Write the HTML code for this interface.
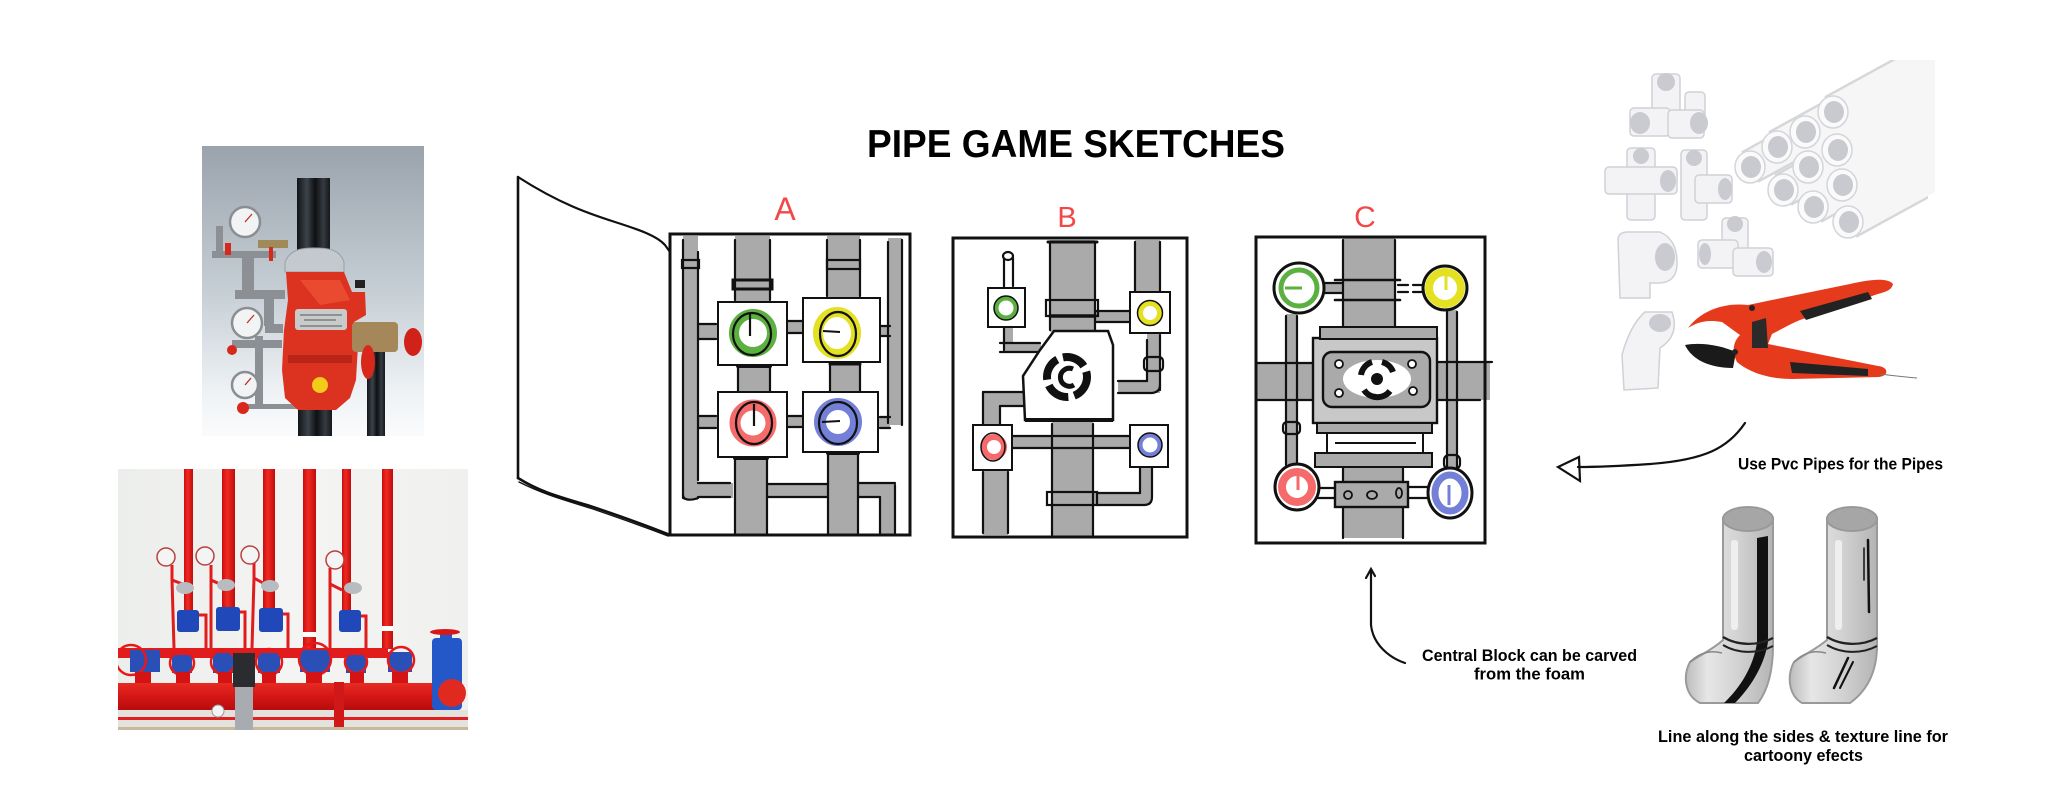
<!DOCTYPE html>
<html><head><meta charset="utf-8"><style>
html,body{margin:0;padding:0;background:#fff;}
svg{display:block;}
</style></head><body>
<svg width="2048" height="787" viewBox="0 0 2048 787" xmlns="http://www.w3.org/2000/svg" font-family="'Liberation Sans', sans-serif">
<defs>
 <linearGradient id="bgTL" x1="0" y1="0" x2="0" y2="1">
  <stop offset="0" stop-color="#9aa3ac"/><stop offset="0.5" stop-color="#c6ced5"/><stop offset="0.85" stop-color="#eef2f5"/><stop offset="1" stop-color="#fafbfc"/>
 </linearGradient>
 <linearGradient id="blk" x1="0" x2="1" y1="0" y2="0">
  <stop offset="0" stop-color="#121518"/><stop offset="0.3" stop-color="#3c434a"/><stop offset="0.55" stop-color="#0e1012"/><stop offset="0.8" stop-color="#353b41"/><stop offset="1" stop-color="#15181b"/>
 </linearGradient>
 <linearGradient id="bgBL" x1="0" y1="0" x2="1" y2="0">
  <stop offset="0" stop-color="#eceeec"/><stop offset="0.5" stop-color="#f4f4f2"/><stop offset="1" stop-color="#f0f0ee"/>
 </linearGradient>
 <linearGradient id="redp" x1="0" x2="1">
  <stop offset="0" stop-color="#c80e0e"/><stop offset="0.4" stop-color="#f02a22"/><stop offset="1" stop-color="#c00c0c"/>
 </linearGradient>
 <linearGradient id="redh" x1="0" y1="0" x2="0" y2="1">
  <stop offset="0" stop-color="#e82a22"/><stop offset="0.5" stop-color="#d41616"/><stop offset="1" stop-color="#b80c0c"/>
 </linearGradient>
 <linearGradient id="cyl" x1="0" x2="1">
  <stop offset="0" stop-color="#bcbcbc"/><stop offset="0.25" stop-color="#e6e6e6"/><stop offset="0.6" stop-color="#d2d2d2"/><stop offset="1" stop-color="#b4b4b4"/>
 </linearGradient>
 <clipPath id="cTL"><rect x="202" y="146" width="222" height="290"/></clipPath>
 <clipPath id="cBL"><rect x="118" y="469" width="350" height="261"/></clipPath>
 <clipPath id="cPVC"><rect x="1600" y="60" width="335" height="335"/></clipPath>
</defs>

<!-- ================= TOP-LEFT PHOTO ================= -->
<g clip-path="url(#cTL)">
 <rect x="202" y="146" width="222" height="290" fill="url(#bgTL)"/>
 <!-- gray trim piping -->
 <g fill="#8c9094">
  <rect x="212" y="251" width="64" height="7"/>
  <rect x="216" y="226" width="7" height="28"/>
  <rect x="242" y="253" width="12" height="42"/>
  <rect x="235" y="290" width="50" height="9"/>
  <rect x="265" y="324" width="18" height="9"/>
  <rect x="255" y="336" width="8" height="72"/>
  <rect x="232" y="340" width="50" height="8"/>
  <rect x="243" y="404" width="56" height="5"/>
  <rect x="264" y="296" width="10" height="30"/>
 </g>
 <rect x="258" y="240" width="30" height="8" fill="#a08a5a"/>
 <!-- gauges -->
 <g fill="#f2f3f4" stroke="#8a8e92" stroke-width="2.5">
  <circle cx="245" cy="222" r="15"/>
  <circle cx="247" cy="323" r="15"/>
  <circle cx="245" cy="385" r="13"/>
 </g>
 <g stroke="#c03020" stroke-width="1.3">
  <line x1="245" y1="222" x2="252" y2="214"/>
  <line x1="247" y1="323" x2="254" y2="315"/>
  <line x1="245" y1="385" x2="251" y2="378"/>
 </g>
 <!-- red handles -->
 <g fill="#d8281c">
  <rect x="225" y="243" width="6" height="12"/>
  <circle cx="232" cy="350" r="5"/>
  <circle cx="243" cy="408" r="6"/>
  <rect x="269" y="247" width="4" height="14"/>
 </g>
 <!-- black pipes -->
 <rect x="297" y="178" width="33" height="74" fill="url(#blk)"/>
 <rect x="298" y="405" width="34" height="32" fill="url(#blk)"/>
 <rect x="367" y="350" width="18" height="87" fill="url(#blk)"/>
 <!-- flange -->
 <path d="M285,262 C290,250 300,248 314,248 C330,248 340,250 344,262 L344,272 L285,272 Z" fill="#c4c9ce" stroke="#9aa0a6" stroke-width="1"/>
 <!-- red body -->
 <path d="M286,272 L344,272 L352,292 L365,292 L366,315 L354,322 L358,345 L356,380 L350,398 L336,410 L298,410 L285,398 L282,370 L284,330 L288,300 Z" fill="#dc3220"/>
 <path d="M300,280 L340,280 L350,300 L320,305 Z" fill="#ea4a30"/>
 <rect x="295" y="309" width="52" height="21" rx="3" fill="#c9cacc"/>
 <g stroke="#555" stroke-width="1"><line x1="300" y1="315" x2="342" y2="315"/><line x1="304" y1="320" x2="336" y2="320"/><line x1="300" y1="326" x2="342" y2="326"/></g>
 <rect x="288" y="355" width="64" height="8" fill="#b82416"/>
 <!-- bronze & wheel -->
 <rect x="352" y="322" width="46" height="30" rx="4" fill="#a5875a"/>
 <ellipse cx="368" cy="362" rx="7" ry="17" fill="#d8281c"/>
 <ellipse cx="413" cy="342" rx="9" ry="14" fill="#d02218"/>
 <circle cx="320" cy="385" r="8" fill="#f2cc18"/>
 <rect x="355" y="280" width="10" height="8" fill="#222"/>
</g>

<!-- ================= BOTTOM-LEFT PHOTO ================= -->
<g clip-path="url(#cBL)">
 <rect x="118" y="469" width="350" height="261" fill="url(#bgBL)"/>
 <!-- vertical red pipes -->
 <g fill="url(#redp)">
  <rect x="184" y="469" width="9" height="150"/>
  <rect x="222" y="469" width="13" height="150"/>
  <rect x="263" y="469" width="12" height="150"/>
  <rect x="303" y="469" width="13" height="180"/>
  <rect x="342" y="469" width="9" height="150"/>
  <rect x="382" y="469" width="11" height="180"/>
 </g>
 <g fill="#fff"><rect x="303" y="632" width="13" height="5"/><rect x="382" y="626" width="11" height="5"/></g>
 <!-- small red branch pipes -->
 <g stroke="#e01c1c" stroke-width="3" fill="none">
  <path d="M172,565 L172,580 L185,585 M172,580 L174,648"/>
  <path d="M211,565 L211,580 L222,585 M211,580 L211,648"/>
  <path d="M254,563 L254,578 L263,583 M254,578 L252,648"/>
  <path d="M330,568 L330,584 L342,590 M330,584 L330,648"/>
  <path d="M198,615 L206,615 L206,650"/><path d="M240,612 L245,612 L245,650"/><path d="M283,614 L288,614 L288,650"/><path d="M361,616 L366,616 L366,650"/>
 </g>
 <!-- gauges -->
 <g fill="#f4f4f4" stroke="#b84040" stroke-width="1.5">
  <circle cx="166" cy="557" r="9"/><circle cx="205" cy="556" r="9"/><circle cx="250" cy="555" r="9"/><circle cx="335" cy="560" r="9"/>
 </g>
 <!-- silver caps -->
 <g fill="#b8bcc0"><ellipse cx="185" cy="588" rx="9" ry="6"/><ellipse cx="226" cy="585" rx="9" ry="6"/><ellipse cx="270" cy="586" rx="9" ry="6"/><ellipse cx="353" cy="588" rx="9" ry="6"/></g>
 <!-- blue valve bodies -->
 <g fill="#2048b8">
  <rect x="177" y="610" width="22" height="22" rx="3"/><rect x="216" y="607" width="24" height="24" rx="3"/><rect x="259" y="608" width="24" height="24" rx="3"/><rect x="339" y="610" width="22" height="22" rx="3"/>
 </g>
 <!-- thin horizontal red -->
 <rect x="118" y="648" width="270" height="10" fill="#e01c1c"/>
 <!-- wheel valves -->
 <g fill="#2a50b8">
  <rect x="130" y="650" width="30" height="22"/><rect x="172" y="655" width="20" height="18"/><rect x="213" y="653" width="22" height="20"/><rect x="258" y="653" width="22" height="20"/><rect x="300" y="650" width="30" height="22"/><rect x="346" y="655" width="20" height="18"/><rect x="388" y="652" width="24" height="20"/>
 </g>
 <g fill="none" stroke="#e81818" stroke-width="2.5">
  <circle cx="131" cy="660" r="15"/><circle cx="182" cy="663" r="12"/><circle cx="223" cy="662" r="12"/><circle cx="269" cy="662" r="13"/><circle cx="315" cy="659" r="16"/><circle cx="356" cy="662" r="11"/><circle cx="401" cy="660" r="13"/>
 </g>
 <g fill="#d41414"><rect x="135" y="672" width="16" height="12"/><rect x="176" y="672" width="14" height="12"/><rect x="218" y="672" width="14" height="12"/><rect x="262" y="672" width="14" height="12"/><rect x="306" y="672" width="16" height="12"/><rect x="350" y="672" width="14" height="12"/><rect x="392" y="672" width="16" height="12"/></g>
 <!-- big red header -->
 <rect x="118" y="683" width="320" height="27" fill="url(#redh)"/>
 <!-- floor -->
 <rect x="118" y="710" width="350" height="20" fill="#e4e2dc"/>
 <rect x="118" y="717" width="350" height="3" fill="#e02020"/>
 <rect x="118" y="727" width="350" height="3" fill="#c8b8a0"/>
 <circle cx="218" cy="711" r="6" fill="#f4f4f4" stroke="#999"/>
 <rect x="334" y="682" width="10" height="45" fill="#d01818"/>
 <!-- pump -->
 <rect x="233" y="653" width="22" height="34" fill="#2a2c30"/>
 <rect x="235" y="687" width="18" height="43" fill="#a8acb0"/>
 <!-- gate valve -->
 <rect x="432" y="638" width="30" height="72" rx="4" fill="#2458c8"/>
 <rect x="440" y="633" width="12" height="12" fill="#2458c8"/>
 <ellipse cx="445" cy="632" rx="15" ry="3" fill="#d81818"/>
 <circle cx="452" cy="693" r="14" fill="#e02a20"/>
</g>

<!-- ================= DOOR ================= -->
<g fill="none" stroke="#111" stroke-linecap="round">
 <path d="M518,177 L518,478" stroke-width="2.6"/>
 <path d="M518,177 C560,204 590,214 615,222 C640,230 657,236 665,245 L670,252" stroke-width="2.2"/>
 <path d="M518,478 C540,492 560,497 590,506 C620,516 645,525 670,535" stroke-width="2.6"/>
 <path d="M519,482 C545,495 565,500 593,509 C622,519 648,528 668,536" stroke-width="1.4"/>
</g>

<!-- ================= TITLE ================= -->
<text x="867" y="157" font-size="39" font-weight="bold" fill="#000" textLength="418" lengthAdjust="spacingAndGlyphs">PIPE GAME SKETCHES</text>

<!-- labels -->
<g fill="#f24848" font-size="32" text-anchor="middle">
 <text x="785" y="220">A</text>
 <text x="1067" y="227" font-size="29">B</text>
 <text x="1365" y="227" font-size="30">C</text>
</g>

<!-- ================= PANEL A ================= -->
<g>
 <g fill="#aaa">
  <rect x="683" y="236" width="15" height="264"/>
  <rect x="683" y="483" width="50" height="15"/>
  <rect x="698" y="324" width="20" height="16"/>
  <rect x="698" y="415" width="20" height="13"/>
  <rect x="735" y="236" width="35" height="66"/>
  <rect x="827" y="236" width="33" height="62"/>
  <rect x="888" y="238" width="14" height="187"/>
  <rect x="878" y="326" width="12" height="11"/>
  <rect x="878" y="416" width="12" height="12"/>
  <rect x="738" y="365" width="32" height="27"/>
  <rect x="830" y="362" width="30" height="30"/>
  <rect x="787" y="321" width="16" height="12"/>
  <rect x="787" y="415" width="16" height="13"/>
  <rect x="735" y="457" width="32" height="78"/>
  <rect x="828" y="452" width="30" height="83"/>
  <rect x="767" y="484" width="61" height="13"/>
  <rect x="858" y="483" width="37" height="14"/>
  <rect x="880" y="483" width="15" height="52"/>
 </g>
 <g stroke="#111" stroke-width="2.2" fill="none" stroke-linecap="round">
  <line x1="683" y1="240" x2="683" y2="498"/><line x1="698" y1="252" x2="698" y2="480"/>
  <rect x="682" y="260" width="17" height="8"/>
  <path d="M683,495 C683,500 690,501 698,498"/>
  <line x1="698" y1="483" x2="730" y2="483"/><line x1="698" y1="497" x2="730" y2="497"/>
  <line x1="698" y1="324" x2="716" y2="324"/><line x1="698" y1="339" x2="716" y2="339"/>
  <line x1="698" y1="416" x2="716" y2="416"/><line x1="698" y1="428" x2="716" y2="428"/>
  <line x1="735" y1="240" x2="735" y2="300"/><line x1="770" y1="240" x2="770" y2="300"/>
  <rect x="733" y="280" width="39" height="9" stroke-width="3"/>
  <line x1="827" y1="240" x2="827" y2="296"/><line x1="860" y1="240" x2="860" y2="296"/>
  <rect x="827" y="260" width="33" height="9"/>
  <line x1="888" y1="242" x2="888" y2="423"/><line x1="902" y1="240" x2="902" y2="425"/>
  <line x1="880" y1="326" x2="890" y2="326"/><line x1="880" y1="336" x2="890" y2="336"/>
  <line x1="880" y1="417" x2="890" y2="417"/><line x1="880" y1="428" x2="890" y2="428"/>
  <line x1="738" y1="366" x2="770" y2="366" stroke-width="4"/><line x1="738" y1="366" x2="738" y2="392"/><line x1="770" y1="366" x2="770" y2="392"/>
  <line x1="830" y1="364" x2="860" y2="364" stroke-width="3"/><line x1="830" y1="364" x2="830" y2="392"/><line x1="860" y1="364" x2="860" y2="392"/>
  <line x1="787" y1="321" x2="803" y2="321"/><line x1="787" y1="333" x2="803" y2="333"/>
  <line x1="787" y1="416" x2="803" y2="416"/><line x1="787" y1="427" x2="803" y2="427"/>
  <line x1="735" y1="458" x2="767" y2="458" stroke-width="4"/><line x1="735" y1="460" x2="735" y2="535"/><line x1="767" y1="460" x2="767" y2="535"/>
  <line x1="828" y1="453" x2="858" y2="453" stroke-width="4"/><line x1="828" y1="455" x2="828" y2="535"/><line x1="858" y1="455" x2="858" y2="535"/>
  <line x1="767" y1="484" x2="828" y2="484"/><line x1="767" y1="497" x2="828" y2="497"/>
  <line x1="858" y1="483" x2="895" y2="483"/><line x1="858" y1="497" x2="880" y2="497"/><line x1="895" y1="485" x2="895" y2="533"/><line x1="880" y1="497" x2="880" y2="533"/>
 </g>
 <g fill="#fff" stroke="#111" stroke-width="2">
  <rect x="718" y="302" width="69" height="63"/>
  <rect x="803" y="298" width="77" height="64"/>
  <rect x="718" y="392" width="69" height="65"/>
  <rect x="803" y="392" width="75" height="60"/>
 </g>
 <g fill="none">
  <circle cx="753" cy="333" r="19" stroke="#5cb040" stroke-width="10"/>
  <ellipse cx="752" cy="334" rx="19" ry="21" stroke="#111" stroke-width="2.2"/>
  <line x1="750" y1="336" x2="750" y2="313" stroke="#111" stroke-width="2.2"/>
  <ellipse cx="837" cy="333" rx="19" ry="21" stroke="#e4e022" stroke-width="10"/>
  <ellipse cx="838" cy="334" rx="18" ry="22" stroke="#111" stroke-width="2.2"/>
  <line x1="823" y1="331" x2="840" y2="332" stroke="#111" stroke-width="2"/>
  <circle cx="753" cy="423" r="18" stroke="#f56a6a" stroke-width="11"/>
  <ellipse cx="754" cy="423" rx="18" ry="21" stroke="#111" stroke-width="2.2"/>
  <line x1="754" y1="426" x2="754" y2="404" stroke="#111" stroke-width="2.2"/>
  <circle cx="838" cy="422" r="18" stroke="#7480d8" stroke-width="12"/>
  <ellipse cx="838" cy="423" rx="19" ry="21" stroke="#111" stroke-width="2.2"/>
  <line x1="822" y1="422" x2="840" y2="421" stroke="#111" stroke-width="2"/>
 </g>
 <rect x="670" y="234" width="240" height="301" fill="none" stroke="#111" stroke-width="3"/>
</g>

<!-- ================= PANEL B ================= -->
<g>
 <g fill="#aaa">
  <rect x="1050" y="240" width="45" height="92"/>
  <rect x="1135" y="240" width="25" height="53"/>
  <rect x="1095" y="311" width="35" height="11"/>
  <rect x="1005" y="327" width="8" height="22"/>
  <rect x="1005" y="343" width="36" height="9"/>
  <rect x="983" y="392" width="42" height="14"/>
  <rect x="983" y="392" width="17" height="35"/>
  <rect x="1147" y="333" width="13" height="57"/>
  <rect x="1118" y="381" width="42" height="12"/>
  <rect x="1012" y="436" width="118" height="12"/>
  <rect x="1052" y="420" width="41" height="117"/>
  <rect x="983" y="470" width="25" height="65"/>
  <rect x="1140" y="467" width="12" height="36"/>
  <rect x="1093" y="493" width="57" height="12"/>
 </g>
 <g stroke="#111" stroke-width="2.2" fill="none" stroke-linecap="round">
  <line x1="1050" y1="242" x2="1050" y2="330"/><line x1="1095" y1="242" x2="1095" y2="330"/>
  <line x1="1048" y1="242" x2="1097" y2="242" stroke-width="3"/>
  <rect x="1046" y="300" width="52" height="16"/>
  <line x1="1050" y1="316" x2="1095" y2="316" stroke-width="3.5"/>
  <line x1="1135" y1="242" x2="1135" y2="292"/><line x1="1160" y1="242" x2="1160" y2="292"/>
  <line x1="1095" y1="311" x2="1130" y2="311"/><line x1="1095" y1="322" x2="1130" y2="322"/>
  <line x1="1004" y1="256" x2="1004" y2="288"/><line x1="1013" y1="258" x2="1013" y2="286"/>
  <ellipse cx="1008" cy="256" rx="5" ry="4" fill="#fff"/>
  <line x1="1004" y1="327" x2="1004" y2="350"/><line x1="1000" y1="343" x2="1040" y2="343"/><line x1="1000" y1="352" x2="1038" y2="352"/>
  <line x1="983" y1="392" x2="1025" y2="392"/><line x1="1000" y1="406" x2="1025" y2="406"/><line x1="983" y1="392" x2="983" y2="425"/><line x1="1000" y1="406" x2="1000" y2="425"/>
  <line x1="1147" y1="340" x2="1147" y2="381"/><line x1="1160" y1="335" x2="1160" y2="390"/>
  <rect x="1144" y="357" width="19" height="14" rx="4"/>
  <path d="M1118,381 L1147,381"/><path d="M1118,393 L1152,393 Q1160,392 1160,385"/>
  <line x1="1012" y1="436" x2="1130" y2="436"/><line x1="1012" y1="448" x2="1130" y2="448"/>
  <line x1="1052" y1="424" x2="1052" y2="535"/><line x1="1093" y1="424" x2="1093" y2="535"/>
  <rect x="1047" y="492" width="50" height="13"/>
  <line x1="983" y1="472" x2="983" y2="533"/><line x1="1008" y1="472" x2="1008" y2="533"/>
  <line x1="1140" y1="467" x2="1140" y2="493"/><path d="M1152,467 L1152,497 Q1152,505 1144,505 L1097,505"/><line x1="1097" y1="493" x2="1140" y2="493"/>
 </g>
 <polygon points="1054,331 1108,331 1113,345 1113,420 1025,420 1023,376 1040,350" fill="#fff" stroke="#111" stroke-width="2.5"/>
 <line x1="1025" y1="420" x2="1113" y2="420" stroke="#111" stroke-width="4"/>
 <!-- emblem -->
 <circle cx="1067" cy="377" r="20" fill="none" stroke="#111" stroke-width="8" stroke-dasharray="24 6"/>
 <path d="M1073,369 A9,9 0 1 0 1074,385" fill="none" stroke="#111" stroke-width="5"/>
 <g fill="#fff" stroke="#111" stroke-width="2">
  <rect x="988" y="288" width="37" height="39"/>
  <rect x="1130" y="292" width="40" height="41"/>
  <rect x="973" y="425" width="39" height="45"/>
  <rect x="1130" y="425" width="38" height="42"/>
 </g>
 <g fill="none">
  <circle cx="1006" cy="308" r="10" stroke="#5cb040" stroke-width="5"/><circle cx="1006" cy="308" r="12" stroke="#111" stroke-width="1.5"/>
  <circle cx="1150" cy="313" r="10" stroke="#e4e022" stroke-width="6"/><circle cx="1150" cy="313" r="12.5" stroke="#111" stroke-width="1.5"/>
  <circle cx="994" cy="447" r="10" stroke="#f56a6a" stroke-width="6"/><ellipse cx="993" cy="447" rx="12" ry="14" stroke="#111" stroke-width="1.5"/>
  <circle cx="1150" cy="445" r="10" stroke="#7480d8" stroke-width="5"/><circle cx="1150" cy="445" r="12" stroke="#111" stroke-width="1.5"/>
 </g>
 <rect x="953" y="238" width="234" height="299" fill="none" stroke="#111" stroke-width="3"/>
</g>

<!-- ================= PANEL C ================= -->
<g>
 <g fill="#aaa">
  <rect x="1343" y="238" width="52" height="92"/>
  <rect x="1257" y="363" width="233" height="37"/>
  <rect x="1343" y="465" width="60" height="73"/>
  <rect x="1325" y="283" width="18" height="10"/>
  <rect x="1286" y="314" width="11" height="150"/>
  <rect x="1447" y="310" width="10" height="160"/>
 </g>
 <g stroke="#111" stroke-width="2.2" fill="none" stroke-linecap="round">
  <line x1="1343" y1="240" x2="1343" y2="330"/><line x1="1395" y1="240" x2="1395" y2="330"/>
  <line x1="1335" y1="280" x2="1400" y2="280" stroke-width="2.6"/><line x1="1335" y1="300" x2="1400" y2="300" stroke-width="2.6"/>
  <line x1="1325" y1="283" x2="1343" y2="283"/><line x1="1325" y1="293" x2="1343" y2="293"/>
  <line x1="1398" y1="285" x2="1408" y2="285"/><line x1="1398" y1="292" x2="1408" y2="292"/><line x1="1413" y1="285" x2="1423" y2="285"/><line x1="1413" y1="292" x2="1423" y2="292"/>
  <line x1="1257" y1="363" x2="1315" y2="363"/><line x1="1257" y1="400" x2="1315" y2="400"/>
  <line x1="1437" y1="362" x2="1492" y2="362"/><line x1="1437" y1="400" x2="1480" y2="400"/>
  <line x1="1286" y1="316" x2="1286" y2="465"/><line x1="1297" y1="316" x2="1297" y2="462"/>
  <line x1="1447" y1="312" x2="1447" y2="470"/><line x1="1457" y1="312" x2="1457" y2="470"/>
  <rect x="1283" y="422" width="17" height="12" rx="4"/>
  <rect x="1444" y="455" width="16" height="14" rx="5"/>
  <line x1="1343" y1="467" x2="1343" y2="538"/><line x1="1403" y1="467" x2="1403" y2="538"/>
  <line x1="1318" y1="488" x2="1335" y2="488"/><line x1="1318" y1="498" x2="1335" y2="498"/>
  <line x1="1408" y1="487" x2="1430" y2="487"/><line x1="1408" y1="498" x2="1430" y2="498"/>
 </g>
 <!-- central block -->
 <rect x="1313" y="338" width="124" height="85" fill="#c8c8c8" stroke="#111" stroke-width="2.4"/>
 <rect x="1320" y="327" width="117" height="12" fill="#aaa" stroke="#111" stroke-width="2"/>
 <rect x="1323" y="352" width="107" height="55" rx="9" fill="#aaa" stroke="#111" stroke-width="2.4"/>
 <ellipse cx="1377" cy="379" rx="34" ry="19" fill="#fff"/>
 <path d="M1361,375 A16,16 0 0 1 1372,362" fill="none" stroke="#111" stroke-width="6"/>
 <path d="M1382,362 A16,16 0 0 1 1393,372" fill="none" stroke="#111" stroke-width="6"/>
 <path d="M1364,390 A16,16 0 0 0 1390,391" fill="none" stroke="#111" stroke-width="6"/>
 <circle cx="1377" cy="379" r="6" fill="#111"/>
 <g fill="#fff" stroke="#111" stroke-width="1.8">
  <circle cx="1339" cy="364" r="4"/><circle cx="1412" cy="364" r="4"/><circle cx="1339" cy="393" r="4"/><circle cx="1413" cy="391" r="4"/>
 </g>
 <rect x="1317" y="423" width="115" height="10" fill="#aaa" stroke="#111" stroke-width="2"/>
 <rect x="1327" y="433" width="96" height="20" fill="#fff" stroke="#111" stroke-width="2"/>
 <line x1="1335" y1="443" x2="1416" y2="443" stroke="#111" stroke-width="2"/>
 <rect x="1315" y="453" width="117" height="14" fill="#aaa" stroke="#111" stroke-width="2"/>
 <rect x="1335" y="482" width="73" height="25" fill="#aaa" stroke="#111" stroke-width="2.4"/>
 <g fill="none" stroke="#111" stroke-width="1.8">
  <ellipse cx="1348" cy="495" rx="4" ry="4"/><ellipse cx="1372" cy="495" rx="5" ry="4"/><ellipse cx="1399" cy="493" rx="3" ry="5"/>
 </g>
 <!-- circles -->
 <circle cx="1299" cy="288" r="25" fill="#fff" stroke="#111" stroke-width="3"/>
 <circle cx="1299" cy="288" r="18" fill="none" stroke="#5cb040" stroke-width="5"/>
 <line x1="1285" y1="288" x2="1302" y2="288" stroke="#5cb040" stroke-width="3"/>
 <circle cx="1445" cy="288" r="22" fill="#fff" stroke="#111" stroke-width="3"/>
 <circle cx="1445" cy="288" r="16" fill="none" stroke="#e4e022" stroke-width="8"/>
 <line x1="1446" y1="274" x2="1446" y2="290" stroke="#e4e022" stroke-width="3"/>
 <ellipse cx="1297" cy="487" rx="22" ry="23" fill="#fff" stroke="#111" stroke-width="3"/>
 <circle cx="1297" cy="487" r="15" fill="none" stroke="#f56a6a" stroke-width="8"/>
 <line x1="1298" y1="474" x2="1298" y2="490" stroke="#f56a6a" stroke-width="3"/>
 <ellipse cx="1450" cy="493" rx="22" ry="25" fill="#fff" stroke="#111" stroke-width="3"/>
 <ellipse cx="1450" cy="493" rx="15" ry="18" fill="none" stroke="#7480d8" stroke-width="7"/>
 <line x1="1449" y1="485" x2="1449" y2="505" stroke="#7480d8" stroke-width="3"/>
 <rect x="1256" y="237" width="229" height="306" fill="none" stroke="#111" stroke-width="3"/>
</g>

<!-- ================= ARROWS ================= -->
<g fill="none" stroke="#111" stroke-width="2.2" stroke-linecap="round">
 <path d="M1371,570 L1371,625 C1373,645 1390,658 1405,663"/>
 <path d="M1366,578 L1371,569 L1375,576"/>
 <path d="M1745,423 C1728,448 1705,460 1650,464 C1620,466 1598,467 1578,467"/>
 <path d="M1579,457 L1558,467 L1580,481 Z"/>
</g>

<!-- ================= PVC PHOTO ================= -->
<g clip-path="url(#cPVC)">
 <!-- pipes bundle -->
 <g stroke-linecap="butt">
  <g stroke="#d6d7db" stroke-width="36">
   <line x1="1833" y1="112" x2="2010" y2="15"/><line x1="1805" y1="132" x2="1982" y2="35"/><line x1="1837" y1="150" x2="2014" y2="53"/><line x1="1777" y1="147" x2="1954" y2="50"/><line x1="1808" y1="167" x2="1985" y2="70"/><line x1="1750" y1="167" x2="1927" y2="70"/><line x1="1842" y1="185" x2="2019" y2="88"/><line x1="1783" y1="190" x2="1960" y2="93"/><line x1="1813" y1="207" x2="1990" y2="110"/><line x1="1848" y1="222" x2="2025" y2="125"/>
  </g>
 </g>
 <rect x="1928" y="60" width="20" height="200" fill="#fff"/>
 <g>
  <g stroke="#f6f6f7" stroke-width="31">
   <line x1="1833" y1="112" x2="2010" y2="15"/><line x1="1805" y1="132" x2="1982" y2="35"/><line x1="1837" y1="150" x2="2014" y2="53"/><line x1="1777" y1="147" x2="1954" y2="50"/><line x1="1808" y1="167" x2="1985" y2="70"/><line x1="1750" y1="167" x2="1927" y2="70"/><line x1="1842" y1="185" x2="2019" y2="88"/><line x1="1783" y1="190" x2="1960" y2="93"/><line x1="1813" y1="207" x2="1990" y2="110"/><line x1="1848" y1="222" x2="2025" y2="125"/>
  </g>
 </g>
 <g fill="#fafafa" stroke="#d4d5d9" stroke-width="1.5">
  <ellipse cx="1833" cy="112" rx="15" ry="16"/><ellipse cx="1805" cy="132" rx="15" ry="16"/><ellipse cx="1777" cy="147" rx="15" ry="16"/><ellipse cx="1750" cy="167" rx="15" ry="16"/><ellipse cx="1837" cy="150" rx="15" ry="16"/><ellipse cx="1808" cy="167" rx="15" ry="16"/><ellipse cx="1783" cy="190" rx="15" ry="16"/><ellipse cx="1842" cy="185" rx="15" ry="16"/><ellipse cx="1813" cy="207" rx="15" ry="16"/><ellipse cx="1848" cy="222" rx="15" ry="16"/>
 </g>
 <g fill="#c8cad0">
  <ellipse cx="1834" cy="112" rx="10" ry="11"/><ellipse cx="1806" cy="132" rx="10" ry="11"/><ellipse cx="1778" cy="147" rx="10" ry="11"/><ellipse cx="1751" cy="167" rx="10" ry="11"/><ellipse cx="1838" cy="150" rx="10" ry="11"/><ellipse cx="1809" cy="167" rx="10" ry="11"/><ellipse cx="1784" cy="190" rx="10" ry="11"/><ellipse cx="1843" cy="185" rx="10" ry="11"/><ellipse cx="1814" cy="207" rx="10" ry="11"/><ellipse cx="1849" cy="222" rx="10" ry="11"/>
 </g>
 <!-- fittings -->
 <g fill="#f3f3f5" stroke="#d0d1d6" stroke-width="1.5">
  <!-- 4-way top -->
  <rect x="1652" y="74" width="28" height="40" rx="4"/>
  <rect x="1685" y="92" width="20" height="30" rx="4"/>
  <rect x="1630" y="108" width="40" height="28" rx="4"/>
  <rect x="1668" y="110" width="36" height="28" rx="4"/>
  <!-- cross -->
  <rect x="1627" y="148" width="28" height="72" rx="4"/>
  <rect x="1605" y="167" width="72" height="27" rx="4"/>
  <!-- tee -->
  <rect x="1681" y="150" width="26" height="70" rx="4"/>
  <rect x="1695" y="175" width="37" height="28" rx="4"/>
  <!-- elbow -->
  <path d="M1618,240 Q1618,232 1628,232 L1660,232 Q1678,240 1677,265 Q1676,282 1660,283 L1650,283 L1650,298 L1620,298 Z"/>
  <!-- 3-way -->
  <rect x="1722" y="218" width="26" height="40" rx="4"/>
  <rect x="1698" y="240" width="40" height="28" rx="4"/>
  <rect x="1733" y="248" width="40" height="28" rx="4"/>
  <!-- 45 elbow -->
  <path d="M1622,355 Q1630,325 1645,312 L1672,312 Q1680,335 1660,348 L1658,388 L1624,390 Z"/>
 </g>
 <g fill="#c9cbd1">
  <circle cx="1666" cy="82" r="9"/><ellipse cx="1699" cy="123" rx="9" ry="11"/><ellipse cx="1640" cy="123" rx="10" ry="11"/>
  <circle cx="1641" cy="156" r="8"/><ellipse cx="1668" cy="181" rx="8" ry="11"/><circle cx="1694" cy="158" r="8"/><ellipse cx="1725" cy="189" rx="7" ry="11"/>
  <ellipse cx="1665" cy="257" rx="10" ry="14"/><circle cx="1735" cy="224" r="8"/><ellipse cx="1705" cy="254" rx="6" ry="11"/><ellipse cx="1764" cy="262" rx="8" ry="11"/>
  <ellipse cx="1660" cy="323" rx="11" ry="9"/>
 </g>
 <!-- cutter -->
 <path d="M1688,328 C1700,312 1722,302 1748,305 L1772,300 L1850,284 C1868,280 1887,277 1893,284 C1891,293 1880,292 1870,297 L1800,320 C1790,324 1780,330 1772,334 L1768,344 L1878,366 C1889,367 1889,376 1879,377 L1792,379 C1770,379 1750,373 1737,362 C1731,350 1734,341 1740,335 L1722,322 C1705,319 1696,323 1688,328 Z" fill="#e63a1c"/>
 <path d="M1685,345 C1700,342 1720,345 1736,352 L1733,368 C1710,368 1692,360 1685,345 Z" fill="#1a1a1a"/>
 <path d="M1800,311 L1868,292 L1872,299 L1806,320 Z" fill="#222"/>
 <path d="M1790,362 L1868,369 L1868,376 L1792,373 Z" fill="#222"/>
 <path d="M1752,322 L1766,318 L1768,348 L1752,348 Z" fill="#2a2a2a"/>
 <circle cx="1752" cy="308" r="3" fill="#222"/><circle cx="1735" cy="352" r="3" fill="#222"/>
 <path d="M1880,374 C1895,376 1905,377 1917,378" stroke="#777" stroke-width="1" fill="none"/>
</g>

<!-- ================= CARTOON PIPES ================= -->
<g>
 <path d="M1723,518 L1723,640 C1712,650 1700,655 1690,662 C1683,675 1684,695 1700,703 L1758,703 C1768,690 1773,670 1773,645 L1773,518 Z" fill="url(#cyl)" stroke="#9a9a9a" stroke-width="2"/>
 <path d="M1690,662 C1700,652 1712,650 1722,653" fill="none" stroke="#888" stroke-width="1.5"/>
 <rect x="1731" y="540" width="7" height="90" rx="3" fill="#efefef"/>
 <ellipse cx="1748" cy="519" rx="25" ry="12" fill="#a6a6a6" stroke="#999" stroke-width="2"/>
 <path d="M1757,538 L1768,536 L1768,642 C1764,668 1748,690 1735,703 L1724,703 C1740,688 1754,666 1757,642 Z" fill="#111"/>
 <path d="M1723,637 C1738,646 1758,646 1773,638" fill="none" stroke="#222" stroke-width="2.2"/>
 <path d="M1723,645 C1738,654 1758,654 1773,646" fill="none" stroke="#222" stroke-width="2"/>

 <path d="M1827,518 L1827,640 C1815,650 1803,655 1794,662 C1787,675 1788,695 1802,703 L1850,703 C1868,690 1877,670 1877,645 L1877,518 Z" fill="url(#cyl)" stroke="#9a9a9a" stroke-width="2"/>
 <path d="M1794,662 C1804,652 1815,650 1826,653" fill="none" stroke="#888" stroke-width="1.5"/>
 <rect x="1835" y="540" width="7" height="90" rx="3" fill="#efefef"/>
 <ellipse cx="1852" cy="519" rx="25" ry="12" fill="#a6a6a6" stroke="#999" stroke-width="2"/>
 <path d="M1827,637 C1842,646 1862,646 1877,638" fill="none" stroke="#222" stroke-width="2.2"/>
 <path d="M1827,645 C1842,654 1862,654 1877,646" fill="none" stroke="#222" stroke-width="2"/>
 <g stroke="#111" stroke-linecap="round" fill="none">
  <line x1="1868" y1="540" x2="1869" y2="612" stroke-width="2.5"/>
  <line x1="1864" y1="548" x2="1864" y2="580" stroke-width="1.5"/>
  <line x1="1848" y1="658" x2="1834" y2="688" stroke-width="2.5"/>
  <line x1="1853" y1="662" x2="1840" y2="688" stroke-width="2"/>
 </g>
</g>

<!-- ================= TEXT LABELS ================= -->
<g font-weight="bold" font-size="16.5" fill="#000">
 <text x="1738" y="469.5" textLength="205" lengthAdjust="spacingAndGlyphs">Use Pvc Pipes for the Pipes</text>
 <text x="1422" y="661" textLength="215" lengthAdjust="spacingAndGlyphs">Central Block can be carved</text>
 <text x="1474" y="679.5" textLength="111" lengthAdjust="spacingAndGlyphs">from the foam</text>
 <text x="1658" y="742" textLength="290" lengthAdjust="spacingAndGlyphs">Line along the sides &amp; texture line for</text>
 <text x="1744" y="761" textLength="119" lengthAdjust="spacingAndGlyphs">cartoony efects</text>
</g>
</svg>
</body></html>
